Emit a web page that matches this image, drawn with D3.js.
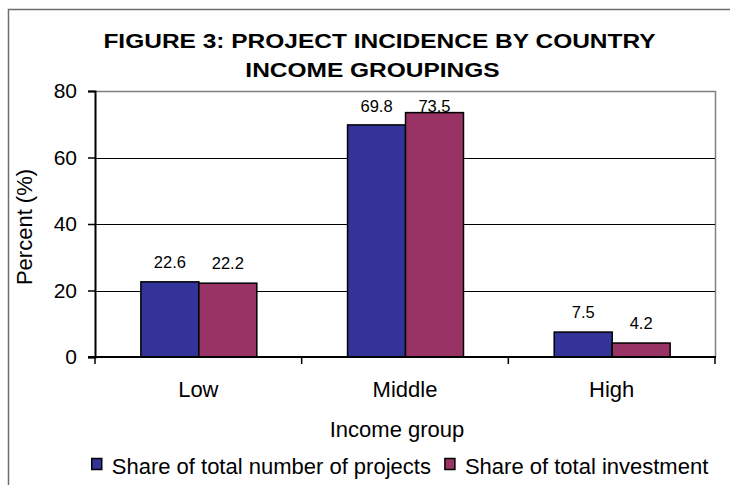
<!DOCTYPE html>
<html>
<head>
<meta charset="utf-8">
<script src="https://cdn.jsdelivr.net/npm/d3@7"></script>
<style>
  html, body { margin: 0; padding: 0; background: #ffffff; }
  svg { display: block; font-family: "Liberation Sans", Arial, Helvetica, sans-serif; }
</style>
</head>
<body>
<svg id="chart" width="730" height="485"></svg>
<script>
const categories = ["Low", "Middle", "High"];
const seriesNames = ["Share of total number of projects", "Share of total investment"];
const projectsShare = [22.6, 69.8, 7.5];
const investmentShare = [22.2, 73.5, 4.2];
const yTicks = [0, 20, 40, 60, 80];
const titleLines = ["FIGURE 3: PROJECT INCIDENCE BY COUNTRY", "INCOME GROUPINGS"];
const xTitle = "Income group";
const yTitle = "Percent (%)";
const colors = ["#333399", "#993366"];

const seriesValues = [projectsShare, investmentShare];
const svg = d3.select("#chart");

// outer chart border (extends past the bottom/right edges)
svg.append("rect")
  .attr("x", 8.5).attr("y", 9.5).attr("width", 760).attr("height", 500)
  .attr("fill", "#ffffff").attr("stroke", "#6e6e6e").attr("stroke-width", 1.5);

const plot = { left: 95, right: 715, top: 91, bottom: 357 };

const x0 = d3.scaleBand().domain(categories).range([plot.left, plot.right]).padding(0);
const bw = x0.bandwidth();
const x1 = d3.scaleBand().domain(d3.range(seriesNames.length))
  .range([bw * 0.222, bw * 0.783]).padding(0);
const y = d3.scaleLinear().domain([0, 80]).range([plot.bottom, plot.top]);

// plot area frame (top and right in grey)
svg.append("path")
  .attr("d", `M${plot.left},${plot.top + 0.5}H${plot.right + 0.5}V${plot.bottom}`)
  .attr("fill", "none").attr("stroke", "#808080").attr("stroke-width", 1.5);

// gridlines
svg.append("g").selectAll("line")
  .data(yTicks.filter(t => t > 0 && t < 80))
  .join("line")
  .attr("x1", plot.left).attr("x2", plot.right)
  .attr("y1", d => Math.round(y(d)) + 0.5).attr("y2", d => Math.round(y(d)) + 0.5)
  .attr("stroke", "#000").attr("stroke-width", 1);

// bars
const groups = svg.append("g").selectAll("g")
  .data(categories)
  .join("g")
  .attr("transform", d => `translate(${x0(d)},0)`);

groups.selectAll("rect")
  .data((c, ci) => seriesValues.map((vals, si) => ({ si, v: vals[ci] })))
  .join("rect")
  .attr("x", d => x1(d.si))
  .attr("y", d => y(d.v))
  .attr("width", x1.bandwidth())
  .attr("height", d => y(0) - y(d.v))
  .attr("fill", d => colors[d.si])
  .attr("stroke", "#000").attr("stroke-width", 1.5);

// data labels
groups.selectAll("text")
  .data((c, ci) => seriesValues.map((vals, si) => ({ si, v: vals[ci] })))
  .join("text")
  .attr("x", d => x1(d.si) + x1.bandwidth() / 2)
  .attr("y", d => Math.max(y(d.v) - 14, plot.top + 21))
  .attr("text-anchor", "middle")
  .attr("font-size", 16.5)
  .attr("fill", "#000")
  .text(d => d.v.toFixed(1));

// y axis
const yAxis = d3.axisLeft(y).tickValues(yTicks).tickSize(7).tickPadding(11).tickFormat(d3.format("d"));
const gy = svg.append("g").attr("transform", `translate(${plot.left},0)`).call(yAxis);
gy.select(".domain").attr("stroke", "#000").attr("stroke-width", 2);
gy.selectAll(".tick line").attr("stroke", "#000").attr("stroke-width", 1.5);
gy.selectAll(".tick text").attr("font-size", 21).attr("font-family", null).attr("fill", "#000");

// x axis
const gx = svg.append("g").attr("transform", `translate(0,${plot.bottom})`);
gx.append("line")
  .attr("x1", plot.left - 7).attr("x2", plot.right + 1)
  .attr("stroke", "#000").attr("stroke-width", 2);
const bounds = categories.map(c => x0(c)).concat([plot.right]);
gx.selectAll("line.tk").data(bounds).join("line")
  .attr("class", "tk")
  .attr("x1", d => d).attr("x2", d => d)
  .attr("y1", 0).attr("y2", 7)
  .attr("stroke", "#000").attr("stroke-width", 1.5);
gx.selectAll("text").data(categories).join("text")
  .attr("x", d => x0(d) + bw / 2)
  .attr("y", 39.5)
  .attr("text-anchor", "middle")
  .attr("font-size", 22)
  .attr("fill", "#000")
  .text(d => d);

// axis titles
svg.append("text")
  .attr("x", (plot.left + plot.right) / 2 - 8)
  .attr("y", 437)
  .attr("text-anchor", "middle")
  .attr("font-size", 22)
  .attr("fill", "#000")
  .text(xTitle);

svg.append("text")
  .attr("transform", `translate(32,${(plot.top + plot.bottom) / 2 + 3}) rotate(-90)`)
  .attr("text-anchor", "middle")
  .attr("font-size", 22)
  .attr("fill", "#000")
  .text(yTitle);

// title
const titleCenters = [379.5, 372.5];
const titleBaselines = [48, 77];
titleLines.forEach((t, i) => {
  svg.append("g")
    .attr("transform", `translate(${titleCenters[i]},${titleBaselines[i]}) scale(1,0.86)`)
    .append("text")
    .attr("text-anchor", "middle")
    .attr("font-size", 24.5)
    .attr("font-weight", "bold")
    .attr("fill", "#000")
    .text(t);
});

// legend
const legend = svg.append("g");
const items = legend.selectAll("g").data(seriesNames).join("g");
items.append("rect")
  .attr("width", 10).attr("height", 11)
  .attr("y", -15.5)
  .attr("fill", (d, i) => colors[i])
  .attr("stroke", "#000").attr("stroke-width", 1.5);
items.append("text")
  .attr("x", 20)
  .attr("font-size", 22)
  .attr("fill", "#000")
  .text(d => d);
let cursor = 0;
const offsets = [];
items.each(function () {
  offsets.push(cursor);
  const w = d3.select(this).select("text").node().getComputedTextLength();
  cursor += 20 + w + 14;
});
const totalW = cursor - 14;
const legendStart = 400 - totalW / 2;
items.attr("transform", (d, i) => `translate(${legendStart + offsets[i]},474)`);
</script>
</body>
</html>
